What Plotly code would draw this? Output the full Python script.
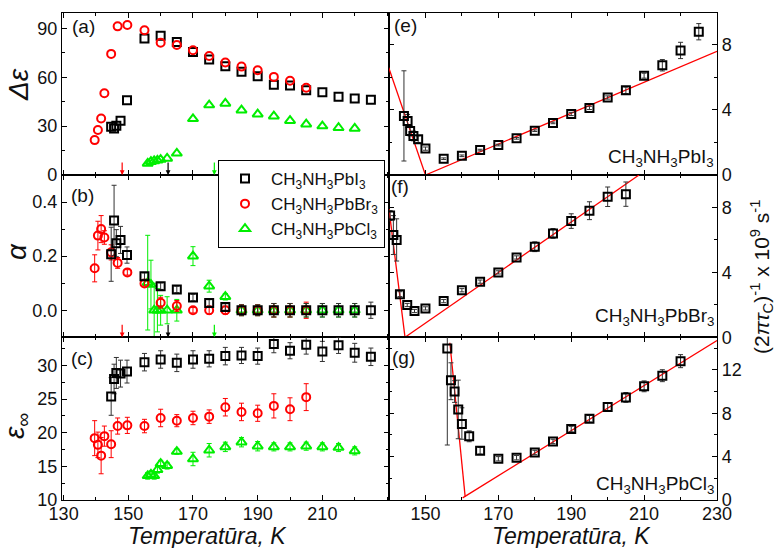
import plotly.graph_objects as go

# ---------------- data ----------------
# CH3NH3PbI3 (left panels)
T_I = [144.7, 145.6, 146.3, 147.6, 149.6, 155, 160, 165, 170, 175, 180, 185, 190, 195, 200, 205, 210, 215, 220, 225]
dE_I = [29.6, 28.6, 30.2, 33.3, 45.9, 83.7, 85.5, 81.6, 75.5, 70.8, 66.7, 63.3, 60.6, 55.3, 54.9, 52.0, 50.8, 48.0, 46.9, 46.1]
alpha_I = [0.207, 0.332, 0.248, 0.26, 0.204, 0.126, 0.089, 0.077, 0.047, 0.027, 0.012, 0, 0, 0, 0, 0, 0, 0, 0, 0]
alpha_I_err = [0.1, 0.13, 0.05, 0.05, 0.03, 0.012, 0.012, 0.012, 0.012, 0.012, 0.012, 0.02, 0.02, 0.025, 0.025, 0.025, 0.025, 0.025, 0.025, 0.03]
eps_I = [25.4, 28.0, 28.9, 28.8, 29.1, 30.5, 30.9, 30.4, 30.9, 31.0, 31.4, 31.5, 31.4, 33.2, 32.2, 33.1, 32.1, 33.0, 31.9, 31.3]
eps_I_err = [2.8, 2.2, 2.3, 2.0, 1.7, 1.3, 1.3, 1.3, 1.3, 1.2, 1.3, 1.2, 1.2, 1.3, 1.2, 1.4, 1.5, 1.2, 1.4, 1.3]

# CH3NH3PbBr3 (left panels)
T_Br = [139.6, 140.6, 141.6, 142.6, 144.7, 146.7, 149.7, 155, 160, 165, 170, 175, 180, 185, 190, 195, 200, 205]
dE_Br = [21.4, 27.6, 34.7, 50.2, 74.3, 91.2, 92.0, 88.8, 81.2, 79.8, 76.5, 73.0, 69.0, 66.5, 64.3, 60.2, 57.8, 53.5]
alpha_Br = [0.155, 0.276, 0.30, 0.269, 0.214, 0.175, 0.14, 0.099, 0.028, 0.016, 0, 0, 0, 0, 0, 0, 0, 0]
alpha_Br_err = [0.05, 0.053, 0.05, 0.025, 0.028, 0.02, 0.01, 0.01, 0.02, 0.02, 0.01, 0.015, 0.015, 0.02, 0.02, 0.025, 0.025, 0.03]
eps_Br = [19.2, 18.2, 16.6, 19.5, 18.3, 21.0, 21.1, 21.0, 22.2, 21.8, 22.2, 22.4, 23.8, 23.1, 22.9, 24.0, 23.5, 25.3]
eps_Br_err = [2.6, 1.9, 2.7, 1.5, 2.0, 1.2, 1.2, 1.0, 1.3, 0.9, 1.0, 1.0, 1.3, 1.3, 1.2, 1.8, 1.7, 2.0]

# CH3NH3PbCl3 (left panels)
T_Cl = [156, 157, 158, 159, 160, 162, 165, 170, 175, 180, 185, 190, 195, 200, 205, 210, 215, 220]
dE_Cl = [7.1, 8.2, 8.6, 9.0, 9.5, 10.2, 13.3, 34.5, 42.9, 43.9, 39.8, 37.3, 36.1, 33.3, 31.2, 30.0, 29.0, 28.6]
alpha_Cl = [0.102, 0.095, 0, 0, 0, 0, 0, 0.2, 0.089, 0.05, 0, 0, 0, 0, 0, 0, 0, 0]
alpha_Cl_err = [0.175, 0.09, 0.1, 0.08, 0.055, 0.05, 0.04, 0.035, 0.022, 0.012, 0.02, 0.02, 0.025, 0.025, 0.025, 0.025, 0.025, 0.025]
eps_Cl = [13.6, 13.8, 13.6, 14.5, 15.4, 15.1, 17.2, 16.1, 17.4, 17.9, 18.6, 18.0, 17.9, 17.9, 18.0, 17.9, 17.8, 17.3]
eps_Cl_err = [0.5, 0.5, 0.5, 0.5, 0.5, 0.5, 0.4, 1.0, 1.0, 0.7, 0.7, 0.7, 0.6, 0.6, 0.6, 0.6, 0.6, 0.6]

# transition-temperature arrows (Br, I, Cl)
T_arrow = [148.1, 162.3, 176.6]

# relaxation rate (2 pi tau_c)^-1, 10^9 s^-1
T_e = [144.1, 145.1, 145.8, 146.7, 148, 150, 155, 160, 165, 170, 175, 180, 185, 190, 195, 200, 205, 210, 215, 220, 225]
rate_e = [3.63, 3.32, 2.7, 2.4, 2.2, 1.62, 1.0, 1.18, 1.53, 1.84, 2.25, 2.72, 3.2, 3.75, 4.12, 4.76, 5.2, 6.1, 6.74, 7.65, 8.8]
rate_e_err = [2.77, 0.4, 0.3, 0.3, 0.2, 0.1, 0.05, 0.05, 0.05, 0.05, 0.05, 0.05, 0.05, 0.1, 0.1, 0.1, 0.2, 0.15, 0.35, 0.5, 0.5]

T_f = [140.3, 141.2, 142.1, 143.0, 145, 147, 150, 155, 160, 165, 170, 175, 180, 185, 190, 195, 200, 205]
rate_f = [7.5, 6.3, 6.0, 2.66, 1.99, 1.62, 1.78, 2.23, 2.9, 3.43, 4.0, 4.92, 5.58, 6.4, 7.16, 7.8, 8.66, 8.82]
rate_f_err = [0.3, 1.2, 1.3, 0.15, 0.1, 0.1, 0.1, 0.1, 0.1, 0.1, 0.1, 0.1, 0.3, 0.3, 0.45, 0.55, 0.6, 0.75]

T_g = [156, 157, 158, 159, 160, 162, 165, 170, 175, 180, 185, 190, 195, 200, 205, 210, 215, 220]
rate_g = [13.97, 11.05, 10.0, 8.35, 7.0, 5.87, 4.54, 3.8, 3.9, 4.38, 5.4, 6.54, 7.49, 8.57, 9.46, 10.48, 11.46, 12.8]
rate_g_err_plus = [1.2, 1.6, 1.0, 2.7, 1.5, 0.5, 0.3, 0.2, 0.2, 0.2, 0.2, 0.25, 0.3, 0.4, 0.45, 0.5, 0.55, 0.6]
rate_g_err_minus = [8.9, 1.8, 1.0, 2.7, 1.4, 0.5, 0.3, 0.2, 0.2, 0.2, 0.2, 0.25, 0.3, 0.4, 0.45, 0.5, 0.55, 0.6]

# linear fits (red lines): pairs of end points
fit_e_T = [[139.9, 150.0], [150.0, 230.0]]
fit_e_v = [[6.6, 0.0], [0.0, 7.6]]
fit_f_T = [[140.0, 144.4], [144.4, 208.6]]
fit_f_v = [[7.9, 0.0], [0.0, 10.0]]
fit_g_T = [[156.7, 160.9], [160.2, 230.0]]
fit_g_v = [[14.5, 0.3], [0.2, 14.7]]

# tick labels
x_left_ticks = [130, 150, 170, 190, 210]
x_right_ticks = [150, 170, 190, 210, 230]

names = ["CH<sub>3</sub>NH<sub>3</sub>PbI<sub>3</sub>",
         "CH<sub>3</sub>NH<sub>3</sub>PbBr<sub>3</sub>",
         "CH<sub>3</sub>NH<sub>3</sub>PbCl<sub>3</sub>"]

# ---------------- styling ----------------
FONT = "Arial, Liberation Sans, sans-serif"
BLACK = "#000000"
RED = "#ff0000"
GREEN = "#00ee00"

W, H = 776, 548
ML, MR, MT, MB = 62, 59, 13, 48
pw, ph = W - ML - MR, H - MT - MB
xsplit = (389 - ML) / pw
r1 = (500 - 175) / ph
r2 = (500 - 337.3) / ph


def px(x):
    return (x - ML) / pw


def py(y):
    return (500 - y) / ph


mk_I = dict(symbol="square-open", size=8, color=BLACK, line=dict(width=2, color=BLACK))
mk_Br = dict(symbol="circle-open", size=8, color=RED, line=dict(width=2, color=RED))
mk_Cl = dict(symbol="triangle-up-open", size=9, color=GREEN, line=dict(width=2, color=GREEN))


def err(arr, color, minus=None):
    d = dict(type="data", array=arr, color=color, thickness=1, width=2.5, visible=True)
    if minus is not None:
        d["symmetric"] = False
        d["arrayminus"] = minus
    return d


fig = go.Figure()

# (a)
fig.add_trace(go.Scatter(x=T_I, y=dE_I, mode="markers", marker=mk_I, name=names[0], xaxis="x", yaxis="y"))
fig.add_trace(go.Scatter(x=T_Br, y=dE_Br, mode="markers", marker=mk_Br, name=names[1], xaxis="x", yaxis="y"))
fig.add_trace(go.Scatter(x=T_Cl, y=dE_Cl, mode="markers", marker=mk_Cl, name=names[2], xaxis="x", yaxis="y"))
# (b)
fig.add_trace(go.Scatter(x=T_Cl, y=alpha_Cl, mode="markers", marker=mk_Cl, error_y=err(alpha_Cl_err, GREEN),
                         showlegend=False, xaxis="x2", yaxis="y2"))
fig.add_trace(go.Scatter(x=T_Br, y=alpha_Br, mode="markers", marker=mk_Br, error_y=err(alpha_Br_err, RED),
                         showlegend=False, xaxis="x2", yaxis="y2"))
fig.add_trace(go.Scatter(x=T_I, y=alpha_I, mode="markers", marker=mk_I, error_y=err(alpha_I_err, "#333333"),
                         showlegend=False, xaxis="x2", yaxis="y2"))
# (c)
fig.add_trace(go.Scatter(x=T_I, y=eps_I, mode="markers", marker=mk_I, error_y=err(eps_I_err, "#333333"),
                         showlegend=False, xaxis="x3", yaxis="y3"))
fig.add_trace(go.Scatter(x=T_Br, y=eps_Br, mode="markers", marker=mk_Br, error_y=err(eps_Br_err, RED),
                         showlegend=False, xaxis="x3", yaxis="y3"))
fig.add_trace(go.Scatter(x=T_Cl, y=eps_Cl, mode="markers", marker=mk_Cl, error_y=err(eps_Cl_err, GREEN),
                         showlegend=False, xaxis="x3", yaxis="y3"))

# right panels: fits + data
for (fT, fv, T, v, e, em, ax) in [
    (fit_e_T, fit_e_v, T_e, rate_e, rate_e_err, None, "4"),
    (fit_f_T, fit_f_v, T_f, rate_f, rate_f_err, None, "5"),
    (fit_g_T, fit_g_v, T_g, rate_g, rate_g_err_plus, rate_g_err_minus, "6"),
]:
    for seg_T, seg_v in zip(fT, fv):
        fig.add_trace(go.Scatter(x=seg_T, y=seg_v, mode="lines", line=dict(color=RED, width=1.3),
                                 showlegend=False, xaxis="x" + ax, yaxis="y" + ax, cliponaxis=True))
    fig.add_trace(go.Scatter(x=T, y=v, mode="markers", marker=mk_I, error_y=err(e, "#333333", em),
                             showlegend=False, xaxis="x" + ax, yaxis="y" + ax))

axis_common = dict(showline=True, linecolor=BLACK, linewidth=1.3, mirror="ticks", ticks="inside",
                   ticklen=5, tickwidth=1.2, tickcolor=BLACK, showgrid=False, zeroline=False,
                   tickfont=dict(family=FONT, size=18, color="#111"))

left_x = dict(range=[129.5, 230.6], tickmode="array", tickvals=x_left_ticks,
              ticktext=[str(t) for t in x_left_ticks], ticklabelstandoff=-3,
              minor=dict(tick0=130, dtick=10, ticks="inside", ticklen=3, tickcolor=BLACK, showgrid=False))
right_x = dict(range=[140, 230], tickmode="array", tickvals=x_right_ticks,
               ticktext=[str(t) for t in x_right_ticks], ticklabelstandoff=-3,
               minor=dict(tick0=140, dtick=10, ticks="inside", ticklen=3, tickcolor=BLACK, showgrid=False))

layout = dict(
    width=W, height=H, margin=dict(l=ML, r=MR, t=MT, b=MB),
    paper_bgcolor="white", plot_bgcolor="white",
    font=dict(family=FONT, size=17, color=BLACK),
    legend=dict(x=px(218), y=py(160), xanchor="left", yanchor="top", bgcolor="white",
                bordercolor=BLACK, borderwidth=1, font=dict(family=FONT, size=17, color="#111"),
                itemwidth=42, tracegroupgap=0),
)

rows = [[r1, 1.0], [r2, r1], [0.0, r2]]
for i, dom in enumerate(rows):
    n = i + 1
    sfx = "" if n == 1 else str(n)
    layout["xaxis" + sfx] = dict(axis_common, **left_x, domain=[0, xsplit], anchor="y" + sfx,
                                 showticklabels=(n == 3))
    n2 = i + 4
    layout["xaxis" + str(n2)] = dict(axis_common, **right_x, domain=[xsplit, 1], anchor="y" + str(n2),
                                     showticklabels=(n2 == 6))

layout["yaxis"] = dict(axis_common, domain=rows[0], anchor="x", range=[0, 99.4], tick0=0, dtick=30,
                       minor=dict(dtick=15, ticks="inside", ticklen=3, tickcolor=BLACK, showgrid=False))
layout["yaxis2"] = dict(axis_common, domain=rows[1], anchor="x2", range=[-0.1, 0.5], tick0=0, dtick=0.2,
                        tickformat=".1f",
                        minor=dict(dtick=0.1, ticks="inside", ticklen=3, tickcolor=BLACK, showgrid=False))
layout["yaxis3"] = dict(axis_common, domain=rows[2], anchor="x3", range=[10, 34.2], tick0=10, dtick=5,
                        minor=dict(dtick=2.5, ticks="inside", ticklen=3, tickcolor=BLACK, showgrid=False))
for n2, dom, rng in [(4, rows[0], [0, 9.95]), (5, rows[1], [0, 10]), (6, rows[2], [0, 15])]:
    layout["yaxis" + str(n2)] = dict(axis_common, domain=dom, anchor="x" + str(n2), side="right",
                                     range=rng, tick0=0, dtick=4,
                                     minor=dict(dtick=2, ticks="inside", ticklen=3, tickcolor=BLACK,
                                                showgrid=False))

fig.update_layout(**layout)

ann = []
# panel letters
for txt, x, y in [("(a)", 83, 27), ("(b)", 82, 195), ("(c)", 82, 358),
                  ("(e)", 405, 25), ("(f)", 400, 187), ("(g)", 403, 357)]:
    ann.append(dict(text=txt, x=px(x), y=py(y), xref="paper", yref="paper", showarrow=False,
                    xanchor="center", yanchor="middle", font=dict(family=FONT, size=19, color="#111")))
# compound labels in right panels
for txt, y in [(names[0], 158), (names[1], 317), (names[2], 485)]:
    ann.append(dict(text=txt, x=px(716), y=py(y), xref="paper", yref="paper", showarrow=False,
                    xanchor="right", yanchor="middle", font=dict(family=FONT, size=19, color="#111")))
# y titles
for txt, x, y in [("<i>Δε</i>", 19, 85), ("<i>α</i>", 16, 252), ("<i>ε</i><sub>∞</sub>", 16, 426)]:
    ann.append(dict(text=txt, x=px(x), y=py(y), xref="paper", yref="paper", showarrow=False,
                    textangle=-90, xanchor="center", yanchor="middle",
                    font=dict(family=FONT, size=28, color="#111")))
ann.append(dict(text="(2<i>πτ</i><sub>C</sub>)<sup>-1</sup> x 10<sup>9</sup> s<sup>-1</sup>",
                x=px(761), y=py(277), xref="paper", yref="paper", showarrow=False, textangle=-90,
                xanchor="center", yanchor="middle", font=dict(family=FONT, size=21, color="#111")))
# x titles
for x in [207, 571]:
    ann.append(dict(text="<i>Temperatūra, K</i>", x=px(x), y=py(536), xref="paper", yref="paper",
                    showarrow=False, xanchor="center", yanchor="middle",
                    font=dict(family=FONT, size=23, color="#111")))
# arrows at transition temperatures
for T, c in zip(T_arrow, [RED, BLACK, GREEN]):
    for xr, yr, y0 in [("x", "y", 0), ("x2", "y2", -0.1)]:
        ann.append(dict(text="", x=T, y=y0, xref=xr, yref=yr, ax=0, ay=-14, showarrow=True,
                        arrowhead=2, arrowsize=0.8, arrowwidth=1.2, arrowcolor=c, standoff=0))
fig.update_layout(annotations=ann)

fig.write_html("out.html", config={"displayModeBar": False},
               post_script="document.body.style.margin='0';document.body.style.padding='0';")
